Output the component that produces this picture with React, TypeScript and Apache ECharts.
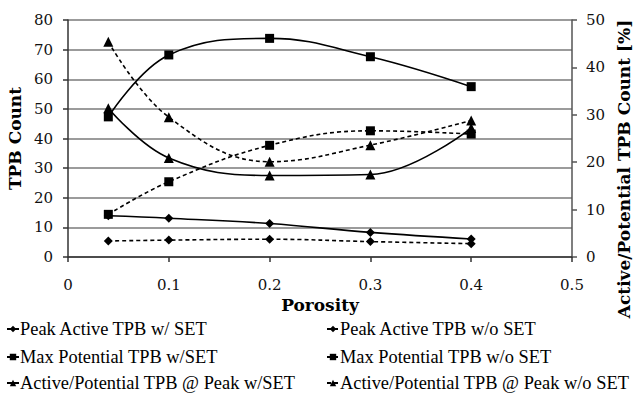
import React, { useEffect, useRef } from "react";
import * as echarts from "echarts";

const porosity = [0.04, 0.1, 0.2, 0.3, 0.4];
const peakActiveWithSET = [13.9, 13.1, 11.3, 8.3, 6.1];
const peakActiveWithoutSET = [5.4, 5.7, 6.0, 5.2, 4.5];
const maxPotentialWithSET = [47.3, 68.2, 73.8, 67.6, 57.5];
const maxPotentialWithoutSET = [14.4, 25.4, 37.7, 42.6, 41.5];
const ratioWithSET = [31.4, 20.9, 17.2, 17.4, 27.2];
const ratioWithoutSET = [45.4, 29.5, 20.1, 23.6, 28.8];

const seriesNames = [
  "Peak Active TPB w/ SET",
  "Peak Active TPB w/o SET",
  "Max Potential TPB w/SET",
  "Max Potential TPB w/o SET",
  "Active/Potential TPB @ Peak w/SET",
  "Active/Potential TPB @ Peak w/o SET",
];

const pairs = (ys: number[]) => porosity.map((x, i) => [x, ys[i]]);

const SERIF = "DejaVu Serif, serif";
const LEG = "Liberation Serif, Times New Roman, serif";

export default function App() {
  const ref = useRef<HTMLDivElement>(null);
  useEffect(() => {
    if (!ref.current) return;
    const chart = echarts.init(ref.current, undefined, { renderer: "svg" });
    const mk = (
      name: string,
      ys: number[],
      symbol: string,
      size: number,
      dashed: boolean,
      yAxisIndex: number
    ) => ({
      name,
      type: "line",
      yAxisIndex,
      data: pairs(ys),
      smooth: 0.4,
      symbol,
      symbolSize: size,
      itemStyle: { color: "#000" },
      lineStyle: {
        color: "#000",
        width: 1.6,
        type: dashed ? [4, 3] : "solid",
      },
    });
    const legendLeft = [6, 326];
    const legendRowTop = [320, 348, 374];
    const legends = seriesNames.map((n, i) => ({
      orient: "horizontal",
      left: legendLeft[i % 2],
      top: legendRowTop[Math.floor(i / 2)],
      padding: 0,
      itemWidth: 12,
      itemHeight: 8,
      itemGap: 0,
      textStyle: { fontFamily: LEG, fontSize: 18.4, color: "#000", padding: [0, 0, 0, -4] },
      data: [n],
    }));
    chart.setOption({
      animation: false,
      backgroundColor: "#fff",
      grid: { left: 68, right: 63, top: 20, bottom: 137, outerBoundsMode: "none", containLabel: false },
      xAxis: {
        type: "value",
        min: 0,
        max: 0.5,
        interval: 0.1,
        name: "Porosity",
        nameLocation: "middle",
        nameGap: 37,
        nameTextStyle: { fontFamily: SERIF, fontWeight: "bold", fontSize: 17, color: "#000" },
        axisLine: { show: true, onZero: false, lineStyle: { color: "#333", width: 1.5 } },
        axisTick: { show: true, length: 5, lineStyle: { color: "#333", width: 1.5 } },
        axisLabel: { fontFamily: SERIF, fontSize: 15, color: "#111", margin: 20 },
        splitLine: { show: false },
      },
      yAxis: [
        {
          type: "value",
          min: 0,
          max: 80,
          interval: 10,
          name: "TPB Count",
          nameLocation: "middle",
          nameGap: 36,
          nameTextStyle: { fontFamily: SERIF, fontWeight: "bold", fontSize: 17, color: "#000" },
          axisLine: { show: true, lineStyle: { color: "#333", width: 1.5 } },
          axisTick: { show: true, length: 5, lineStyle: { color: "#333", width: 1.5 } },
          axisLabel: { fontFamily: SERIF, fontSize: 15, color: "#111", margin: 15 },
          splitLine: { show: true, lineStyle: { color: "#7a7a7a", width: 1.5 } },
        },
        {
          type: "value",
          min: 0,
          max: 50,
          interval: 10,
          position: "right",
          axisLine: { show: true, lineStyle: { color: "#555", width: 1.5 } },
          axisTick: { show: true, length: 5, lineStyle: { color: "#555", width: 1.5 } },
          axisLabel: { fontFamily: SERIF, fontSize: 15, color: "#111", margin: 14 },
          splitLine: { show: false },
        },
      ],
      legend: legends,
      graphic: [
        {
          type: "text",
          x: 624,
          y: 169,
          rotation: Math.PI / 2,
          style: {
            text: "Active/Potential TPB Count [%]",
            fontFamily: SERIF,
            fontWeight: "bold",
            fontSize: 17,
            fill: "#000",
            align: "center",
            verticalAlign: "middle",
          },
        },
      ],
      series: [
        mk(seriesNames[0], peakActiveWithSET, "diamond", 9, false, 0),
        mk(seriesNames[1], peakActiveWithoutSET, "diamond", 9, true, 0),
        mk(seriesNames[2], maxPotentialWithSET, "rect", 9, false, 0),
        mk(seriesNames[3], maxPotentialWithoutSET, "rect", 9, true, 0),
        mk(seriesNames[4], ratioWithSET, "triangle", 10, false, 1),
        mk(seriesNames[5], ratioWithoutSET, "triangle", 10, true, 1),
      ],
    });
    return () => chart.dispose();
  }, []);
  return <div ref={ref} style={{ width: 635, height: 394, position: "absolute", left: 0, top: 0 }} />;
}
